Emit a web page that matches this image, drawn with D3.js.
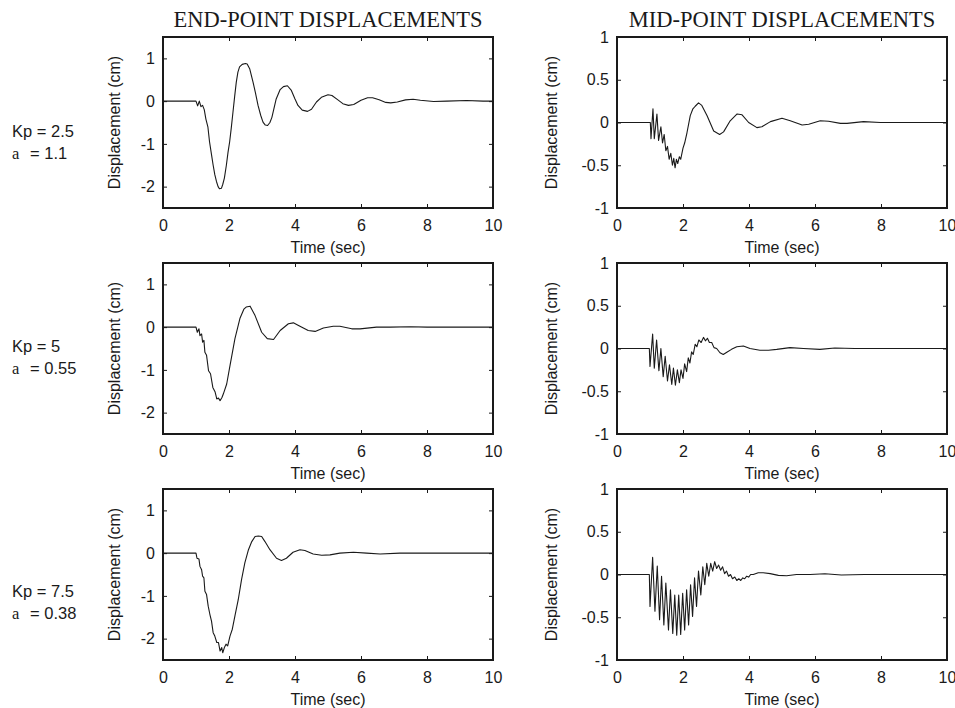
<!DOCTYPE html>
<html>
<head>
<meta charset="utf-8">
<script src="https://cdn.jsdelivr.net/npm/d3@7"></script>
<style>
  html, body { margin: 0; padding: 0; background: #fff; }
  svg { display: block; }
  .tick text { font-family: "Liberation Sans", Arial, sans-serif; font-size: 16px; fill: #1a1a1a; }
  .tick line { stroke: #1a1a1a; stroke-width: 1; }
</style>
</head>
<body>
<script>
// ticks and column titles
const timeTicks = [0, 2, 4, 6, 8, 10];
const endTicks = [-2, -1, 0, 1];
const midTicks = [-1, -0.5, 0, 0.5, 1];
const titles = ["END-POINT DISPLACEMENTS", "MID-POINT DISPLACEMENTS"];
const kpLabels = ["Kp = 2.5", "Kp = 5", "Kp = 7.5"];
const aLabels = ["= 1.1", "= 0.55", "= 0.38"];

// [time (sec), displacement (cm)]
const end25 = [
  [0, 0], [1.0, 0], [1.05, -0.11], [1.1, 0.0], [1.15, -0.13], [1.2, -0.1], [1.25, -0.2], [1.3, -0.42],
  [1.36, -0.6], [1.41, -0.95], [1.47, -1.25], [1.52, -1.5], [1.57, -1.72], [1.62, -1.88], [1.67, -2.0],
  [1.71, -2.05], [1.77, -2.04], [1.81, -1.95], [1.86, -1.8], [1.92, -1.5], [1.97, -1.2], [2.02, -0.95],
  [2.07, -0.62], [2.12, -0.26], [2.17, 0.1], [2.22, 0.44], [2.27, 0.68], [2.32, 0.8], [2.4, 0.86],
  [2.5, 0.88], [2.55, 0.87], [2.63, 0.75], [2.73, 0.44], [2.8, 0.2], [2.88, -0.1], [2.96, -0.33],
  [3.03, -0.49], [3.1, -0.56], [3.17, -0.57], [3.24, -0.5], [3.3, -0.38], [3.43, 0.05], [3.55, 0.27],
  [3.65, 0.34], [3.77, 0.36], [3.89, 0.25], [4.0, 0.05], [4.09, -0.1], [4.22, -0.21], [4.38, -0.24],
  [4.5, -0.19], [4.65, -0.02], [4.8, 0.09], [5.0, 0.15], [5.12, 0.13], [5.3, 0.03], [5.45, -0.06],
  [5.62, -0.1], [5.78, -0.08], [6.0, 0.02], [6.2, 0.08], [6.35, 0.08], [6.55, 0.03], [6.75, -0.03],
  [6.9, -0.04], [7.1, -0.02], [7.35, 0.03], [7.58, 0.045], [7.8, 0.02], [8.2, -0.01], [8.6, 0.0],
  [9.2, 0.015], [9.7, 0.0], [10, 0]
];

const mid25 = [
  [0, 0], [0.99, 0], [1.01, 0], [1.03, -0.19], [1.09, 0.16], [1.13, -0.19], [1.21, 0.1], [1.26, -0.21],
  [1.33, -0.05], [1.38, -0.24], [1.43, -0.14], [1.48, -0.33], [1.53, -0.28], [1.58, -0.43], [1.63, -0.36],
  [1.68, -0.5], [1.72, -0.42], [1.76, -0.53], [1.8, -0.43], [1.84, -0.48], [1.89, -0.4], [1.93, -0.43],
  [2.0, -0.3], [2.05, -0.24], [2.12, -0.12], [2.22, 0.08], [2.3, 0.16], [2.37, 0.19], [2.47, 0.23],
  [2.57, 0.2], [2.73, 0.08], [2.93, -0.1], [3.11, -0.14], [3.23, -0.11], [3.43, 0.02], [3.64, 0.1],
  [3.79, 0.09], [3.99, 0], [4.24, -0.06], [4.39, -0.05], [4.65, 0.01], [5.0, 0.05], [5.25, 0.02],
  [5.61, -0.03], [5.81, -0.02], [6.16, 0.02], [6.41, 0.015], [6.77, -0.01], [6.97, -0.01], [7.47, 0.01],
  [7.98, 0], [10, 0]
];

const end50 = [
  [0, 0], [1.0, 0], [1.04, -0.12], [1.09, -0.04], [1.12, -0.2], [1.17, -0.16], [1.2, -0.35], [1.24, -0.31],
  [1.27, -0.59], [1.32, -0.66], [1.38, -1.02], [1.44, -1.09], [1.51, -1.41], [1.58, -1.52], [1.63, -1.68],
  [1.68, -1.66], [1.73, -1.72], [1.79, -1.64], [1.83, -1.56], [1.93, -1.33], [2.03, -0.9], [2.18, -0.27],
  [2.33, 0.2], [2.45, 0.42], [2.52, 0.47], [2.64, 0.49], [2.79, 0.27], [2.99, -0.12], [3.16, -0.27],
  [3.35, -0.29], [3.55, -0.08], [3.8, 0.08], [3.95, 0.1], [4.15, 0.02], [4.4, -0.08], [4.61, -0.1],
  [4.86, -0.02], [5.16, 0.02], [5.36, 0.02], [5.72, -0.04], [5.97, -0.04], [6.47, 0.0], [6.88, 0],
  [7.5, 0.01], [8.0, 0], [10, 0]
];

const mid50 = [
  [0, 0], [0.98, 0], [1.0, -0.21], [1.08, 0.17], [1.13, -0.23], [1.2, 0.1], [1.27, -0.26], [1.33, 0.0],
  [1.4, -0.33], [1.46, -0.09], [1.53, -0.38], [1.59, -0.19], [1.66, -0.42], [1.71, -0.23], [1.77, -0.43],
  [1.83, -0.25], [1.89, -0.4], [1.94, -0.25], [2.0, -0.35], [2.05, -0.18], [2.11, -0.27], [2.16, -0.11],
  [2.21, -0.17], [2.26, -0.04], [2.31, -0.07], [2.37, 0.05], [2.42, 0.02], [2.48, 0.1], [2.55, 0.07],
  [2.62, 0.13], [2.68, 0.09], [2.74, 0.12], [2.8, 0.07], [2.87, 0.07], [2.94, 0.01], [3.02, 0],
  [3.12, -0.05], [3.22, -0.07], [3.34, -0.04], [3.47, -0.01], [3.63, 0.02], [3.83, 0.03], [4.03, 0.0],
  [4.33, -0.02], [4.59, -0.02], [4.84, -0.01], [5.24, 0.01], [5.65, 0], [6.15, -0.01], [6.6, 0.005],
  [7.2, 0], [10, 0]
];

const end75 = [
  [0, 0], [1.0, 0], [1.03, -0.12], [1.09, -0.14], [1.12, -0.31], [1.17, -0.39], [1.2, -0.54], [1.24, -0.58],
  [1.27, -0.89], [1.32, -0.97], [1.37, -1.24], [1.42, -1.43], [1.47, -1.59], [1.52, -1.86], [1.57, -1.94],
  [1.63, -2.09], [1.68, -2.09], [1.73, -2.29], [1.78, -2.21], [1.81, -2.33], [1.86, -2.21], [1.91, -2.13],
  [1.96, -2.17], [2.03, -1.94], [2.1, -1.78], [2.18, -1.47], [2.28, -1.09], [2.38, -0.62], [2.48, -0.23],
  [2.59, 0.08], [2.69, 0.27], [2.79, 0.39], [2.89, 0.4], [2.99, 0.39], [3.09, 0.27], [3.24, 0.08],
  [3.44, -0.12], [3.59, -0.17], [3.74, -0.12], [3.94, 0.02], [4.15, 0.08], [4.3, 0.06], [4.55, -0.02],
  [4.81, -0.05], [5.06, -0.04], [5.36, 0], [5.77, 0.02], [6.17, 0], [6.58, -0.02], [7.18, 0], [10, 0]
];

const mid75 = [
  [0, 0], [0.98, 0], [1.0, -0.375], [1.08, 0.2], [1.15, -0.43], [1.22, 0.1], [1.29, -0.53], [1.35, -0.02],
  [1.42, -0.59], [1.48, -0.1], [1.56, -0.65], [1.62, -0.18], [1.69, -0.69], [1.75, -0.24], [1.81, -0.71],
  [1.87, -0.24], [1.93, -0.7], [1.99, -0.22], [2.05, -0.65], [2.11, -0.18], [2.17, -0.59], [2.23, -0.12],
  [2.29, -0.49], [2.35, -0.04], [2.41, -0.375], [2.47, 0.04], [2.54, -0.24], [2.6, 0.09], [2.66, -0.12],
  [2.72, 0.13], [2.78, -0.02], [2.84, 0.13], [2.9, 0.04], [2.96, 0.15], [3.02, 0.07], [3.08, 0.11],
  [3.14, 0.05], [3.2, 0.09], [3.26, 0.01], [3.32, 0.04], [3.38, -0.02], [3.44, 0], [3.5, -0.05],
  [3.57, -0.03], [3.63, -0.07], [3.69, -0.05], [3.75, -0.07], [3.81, -0.04], [3.87, -0.05], [3.93, -0.02],
  [3.99, -0.03], [4.05, 0], [4.13, 0], [4.28, 0.02], [4.43, 0.02], [4.64, 0.01], [4.89, -0.01],
  [5.14, -0.015], [5.44, 0], [5.85, 0.0], [6.3, 0.008], [6.8, -0.005], [7.5, 0], [10, 0]
];

const rows = [[end25, mid25], [end50, mid50], [end75, mid75]];

const width = 955, height = 708;
const colX = [163, 617], rowY = [37, 263, 489];
const pw = 330, ph = 171;
const labelY = [137, 352, 597];
const sans = "'Liberation Sans', Arial, Helvetica, sans-serif";
const serif = "'Liberation Serif', 'Times New Roman', serif";
const ink = "#1a1a1a";

const svg = d3.select("body").append("svg")
  .attr("width", width)
  .attr("height", height);

const fmt = d => String(d);

function drawPanel(g, data, yDomain, yTicks, ylabOffset) {
  const x = d3.scaleLinear().domain([0, 10]).range([0, pw]);
  const y = d3.scaleLinear().domain(yDomain).range([ph, 0]);

  // matlab style: ticks pointing inward on all four sides
  g.append("g")
    .attr("transform", `translate(0,${ph})`)
    .call(d3.axisBottom(x).tickValues(timeTicks).tickSizeInner(-4).tickSizeOuter(0).tickPadding(12).tickFormat(fmt));
  g.append("g")
    .call(d3.axisTop(x).tickValues(timeTicks).tickSizeInner(-4).tickSizeOuter(0).tickFormat(""));
  g.append("g")
    .call(d3.axisLeft(y).tickValues(yTicks).tickSizeInner(-4).tickSizeOuter(0).tickPadding(8).tickFormat(fmt));
  g.append("g")
    .attr("transform", `translate(${pw},0)`)
    .call(d3.axisRight(y).tickValues(yTicks).tickSizeInner(-4).tickSizeOuter(0).tickFormat(""));
  g.selectAll(".domain").remove();

  g.append("path")
    .datum(data)
    .attr("fill", "none")
    .attr("stroke", ink)
    .attr("stroke-width", 1.1)
    .attr("stroke-linejoin", "round")
    .attr("d", d3.line().x(d => x(d[0])).y(d => y(d[1])));

  g.append("rect")
    .attr("width", pw)
    .attr("height", ph)
    .attr("fill", "none")
    .attr("stroke", ink)
    .attr("stroke-width", 2);

  g.append("text")
    .attr("x", pw / 2)
    .attr("y", ph + 45)
    .attr("text-anchor", "middle")
    .style("font-family", sans)
    .style("font-size", "16px")
    .attr("fill", ink)
    .text("Time (sec)");

  g.append("text")
    .attr("transform", `translate(${-ylabOffset},${ph / 2}) rotate(-90)`)
    .attr("text-anchor", "middle")
    .style("font-family", sans)
    .style("font-size", "16px")
    .attr("fill", ink)
    .text("Displacement (cm)");
}

rows.forEach((pair, r) => {
  pair.forEach((data, c) => {
    const g = svg.append("g").attr("transform", `translate(${colX[c]},${rowY[r]})`);
    if (c === 0) drawPanel(g, data, [-2.5, 1.5], endTicks, 43);
    else drawPanel(g, data, [-1, 1], midTicks, 60);
  });

  svg.append("text")
    .attr("x", 12)
    .attr("y", labelY[r])
    .style("font-family", sans)
    .style("font-size", "16.5px")
    .attr("fill", ink)
    .text(kpLabels[r]);
  svg.append("text")
    .attr("x", 12)
    .attr("y", labelY[r] + 21.5)
    .style("font-family", serif)
    .style("font-size", "16.5px")
    .attr("fill", ink)
    .text("a");
  svg.append("text")
    .attr("x", 30)
    .attr("y", labelY[r] + 21.5)
    .style("font-family", sans)
    .style("font-size", "16.5px")
    .attr("fill", ink)
    .text(aLabels[r]);
});

titles.forEach((t, c) => {
  svg.append("text")
    .attr("x", colX[c] + pw / 2)
    .attr("y", 27)
    .attr("text-anchor", "middle")
    .style("font-family", serif)
    .style("font-size", "22.5px")
    .attr("fill", ink)
    .text(t);
});
</script>
</body>
</html>
